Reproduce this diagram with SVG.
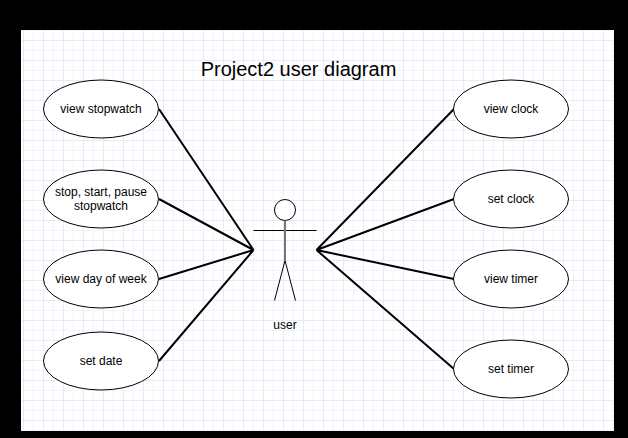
<svg xmlns="http://www.w3.org/2000/svg" width="628" height="438" viewBox="0 0 628 438">
<style>
.n{fill:#fff;stroke:#000;stroke-width:1}
.t{font-family:"Liberation Sans",Arial,sans-serif;font-size:12px;fill:#000;text-anchor:middle}
.c{stroke:#000;stroke-width:2;fill:none}
.a{stroke:#000;stroke-width:1;fill:none}
</style>
<defs>
<pattern id="g" x="23" y="20" width="20" height="20" patternUnits="userSpaceOnUse">
<path d="M10.500 0V20M0 10.500H20" fill="none" stroke="#f3f3fc" stroke-width="1"/>
<path d="M0.500 0V20M0 0.500H20" fill="none" stroke="#e9e9fb" stroke-width="1"/>
</pattern>
</defs>
<rect width="628" height="438" fill="#000"/>
<rect x="21" y="30" width="593" height="401" fill="#fff"/>
<rect x="21" y="30" width="593" height="401" fill="url(#g)"/>
<text x="298.500" y="76" style="font-family:'Liberation Sans',Arial,sans-serif;font-size:20px;text-anchor:middle">Project2 user diagram</text>
<g id="connectors">
<path class="c" d="M159 109L253.500 250M159 199L253.500 250M159 279L253.500 250M159 361L253.500 250"/>
<path class="c" d="M454 109L316.500 250M454 199L316.500 250M454 279L316.500 250M454 369L316.500 250"/>
</g>
<g id="view-stopwatch"><ellipse class="n" cx="101" cy="109" rx="57.500" ry="29"/><text class="t" x="101" y="113">view stopwatch</text></g>
<g id="stop-start"><ellipse class="n" cx="101" cy="199" rx="57.500" ry="29"/><text class="t" x="101" y="196">stop, start, pause</text><text class="t" x="101" y="210">stopwatch</text></g>
<g id="view-day"><ellipse class="n" cx="101" cy="279" rx="57.500" ry="29"/><text class="t" x="101" y="283">view day of week</text></g>
<g id="set-date"><ellipse class="n" cx="101" cy="361" rx="57.500" ry="29"/><text class="t" x="101" y="365">set date</text></g>
<g id="view-clock"><ellipse class="n" cx="511" cy="109" rx="57.500" ry="29"/><text class="t" x="511" y="113">view clock</text></g>
<g id="set-clock"><ellipse class="n" cx="511" cy="199" rx="57.500" ry="29"/><text class="t" x="511" y="203">set clock</text></g>
<g id="view-timer"><ellipse class="n" cx="511" cy="279" rx="57.500" ry="29"/><text class="t" x="511" y="283">view timer</text></g>
<g id="set-timer"><ellipse class="n" cx="511" cy="369" rx="57.500" ry="29"/><text class="t" x="511" y="373">set timer</text></g>
<g id="user">
<circle class="n" cx="285" cy="210" r="10.500"/>
<path class="a" d="M253.500 230.500H316.500M285 260.500L274.500 300.500M285 260.500L295.500 300.500"/>
<path d="M285 220.500V260.500" stroke="#777" stroke-width="2" fill="none"/>
<text class="t" x="285" y="329">user</text>
</g>
</svg>
